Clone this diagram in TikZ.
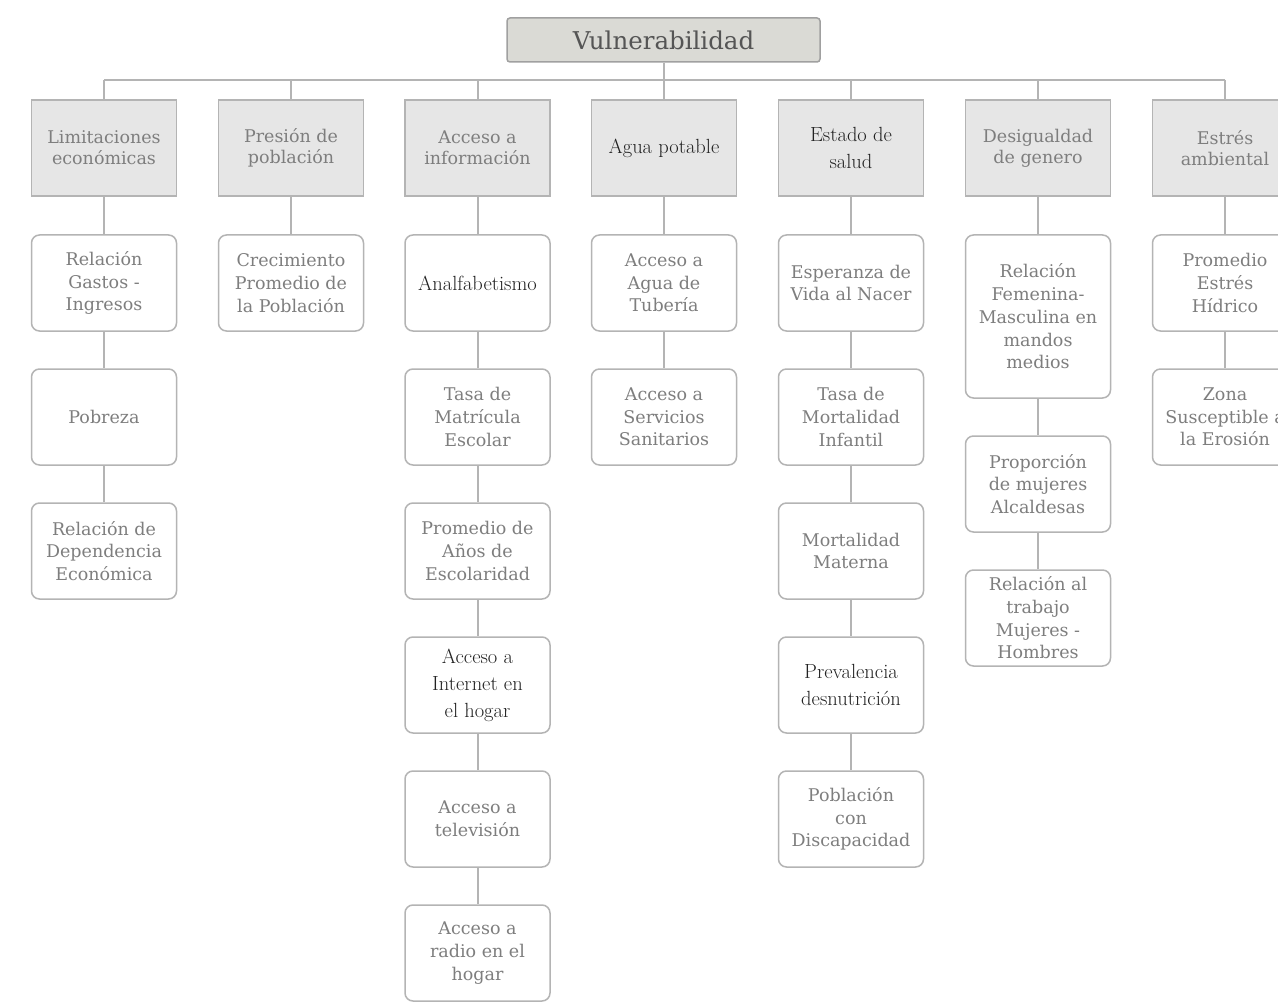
\documentclass[tikz,border=0pt]{standalone}
\usepackage{fontspec}
\newfontfamily\dvs{DejaVu Serif}
\definecolor{boxb}{HTML}{B4B4B4}
\definecolor{hdrfill}{HTML}{E6E6E6}
\definecolor{topfill}{HTML}{DADAD5}
\definecolor{topb}{HTML}{A0A0A0}
\definecolor{lnc}{HTML}{B4B4B4}
\definecolor{txtg}{HTML}{7E7E7E}
\definecolor{txtd}{HTML}{222222}
\definecolor{txtt}{HTML}{555555}
\tikzset{
  hdr/.style={draw=boxb, fill=hdrfill, line width=1.5pt, minimum width=145pt, minimum height=96pt, inner sep=2pt, align=center, text=txtg, font=\dvs\fontsize{17.5}{21}\selectfont},
  kid/.style={draw=boxb, fill=white, rounded corners=8pt, line width=1.5pt, minimum width=145pt, minimum height=96pt, inner sep=2pt, align=center, text=txtg, font=\dvs\fontsize{17.5}{22.7}\selectfont},
  dark/.style={text=txtd, font=\rmfamily\fontsize{20.5}{27}\selectfont},
  conn/.style={draw=lnc, line width=2pt}
}
\begin{document}
\begin{tikzpicture}[x=1pt,y=-1pt]
\useasboundingbox (0,0) rectangle (1278,1003);
\clip (0,0) rectangle (1278,1003);
\fill[white] (0,0) rectangle (1278,1003);
\coordinate (bus) at (0,80);
% top
\node[draw=topb, fill=topfill, line width=1.5pt, rounded corners=3pt, minimum width=313pt, minimum height=44pt, text=txtt, font=\dvs\fontsize{24.5}{28}\selectfont] (top) at (663.5,40) {Vulnerabilidad};
% headers
\node[hdr] (h1) at (104,148) {Limitaciones\\económicas};
\node[hdr] (h2) at (291,148) {Presión de\\población};
\node[hdr] (h3) at (477.5,148) {Acceso a\\información};
\node[hdr,dark] (h4) at (664,148) {Agua potable};
\node[hdr,dark] (h5) at (851,148) {Estado de\\salud};
\node[hdr] (h6) at (1038,148) {Desigualdad\\de genero};
\node[hdr] (h7) at (1225,148) {Estrés\\ambiental};
% col 1
\node[kid] (a1) at (104,283) {Relación\\Gastos -\\Ingresos};
\node[kid] (a2) at (104,417) {Pobreza};
\node[kid] (a3) at (104,551) {Relación de\\Dependencia\\Económica};
% col 2
\node[kid] (b1) at (291,283) {Crecimiento\\Promedio de\\la Población};
% col 3
\node[kid,dark] (c1) at (477.5,283) {Analfabetismo};
\node[kid] (c2) at (477.5,417) {Tasa de\\Matrícula\\Escolar};
\node[kid] (c3) at (477.5,551) {Promedio de\\Años de\\Escolaridad};
\node[kid,dark] (c4) at (477.5,685) {Acceso a\\Internet en\\el hogar};
\node[kid] (c5) at (477.5,819) {Acceso a\\televisión};
\node[kid] (c6) at (477.5,953) {Acceso a\\radio en el\\hogar};
% col 4
\node[kid] (d1) at (664,283) {Acceso a\\Agua de\\Tubería};
\node[kid] (d2) at (664,417) {Acceso a\\Servicios\\Sanitarios};
% col 5
\node[kid] (e1) at (851,283) {Esperanza de\\Vida al Nacer};
\node[kid] (e2) at (851,417) {Tasa de\\Mortalidad\\Infantil};
\node[kid] (e3) at (851,551) {Mortalidad\\Materna};
\node[kid,dark] (e4) at (851,685) {Prevalencia\\desnutrición};
\node[kid] (e5) at (851,819) {Población\\con\\Discapacidad};
% col 6
\node[kid, minimum height=163pt] (f1) at (1038,316.5) {Relación\\Femenina-\\Masculina en\\mandos\\medios};
\node[kid] (f2) at (1038,484) {Proporción\\de mujeres\\Alcaldesas};
\node[kid] (f3) at (1038,618) {Relación al\\trabajo\\Mujeres -\\Hombres};
% col 7
\node[kid] (g1) at (1225,283) {Promedio\\Estrés\\Hídrico};
\node[kid] (g2) at (1225,417) {Zona\\Susceptible a\\la Erosión};
% connectors
\draw[conn] (top.south) -- (top.south |- bus);
\draw[conn] (h1.north |- bus) -- (h7.north |- bus);
\foreach \h in {h1,h2,h3,h4,h5,h6,h7}{\draw[conn] (\h.north |- bus) -- (\h.north);}
\draw[conn] (h1) -- (a1);
\draw[conn] (a1) -- (a2);
\draw[conn] (a2) -- (a3);
\draw[conn] (h2) -- (b1);
\draw[conn] (h3) -- (c1);
\draw[conn] (c1) -- (c2);
\draw[conn] (c2) -- (c3);
\draw[conn] (c3) -- (c4);
\draw[conn] (c4) -- (c5);
\draw[conn] (c5) -- (c6);
\draw[conn] (h4) -- (d1);
\draw[conn] (d1) -- (d2);
\draw[conn] (h5) -- (e1);
\draw[conn] (e1) -- (e2);
\draw[conn] (e2) -- (e3);
\draw[conn] (e3) -- (e4);
\draw[conn] (e4) -- (e5);
\draw[conn] (h6) -- (f1);
\draw[conn] (f1) -- (f2);
\draw[conn] (f2) -- (f3);
\draw[conn] (h7) -- (g1);
\draw[conn] (g1) -- (g2);
\end{tikzpicture}
\end{document}
